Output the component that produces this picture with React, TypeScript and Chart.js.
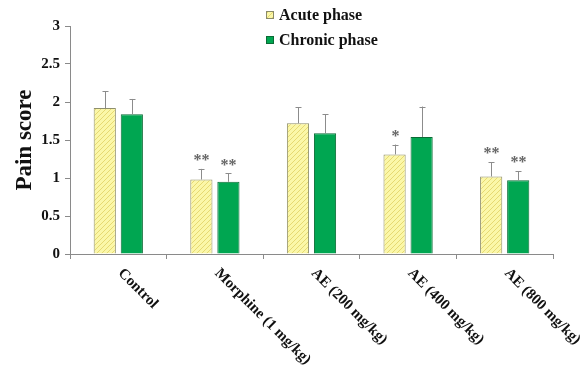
import React, { useEffect, useRef } from "react";
import { Chart, registerables } from "chart.js";

Chart.register(...registerables);

const categories = ["Control", "Morphine (1 mg/kg)", "AE (200 mg/kg)", "AE (400 mg/kg)", "AE (800 mg/kg)"];
const seriesNames = ["Acute phase", "Chronic phase"];
const acuteMeans = [1.92, 0.98, 1.72, 1.31, 1.02];
const acuteErrors = [0.22, 0.14, 0.21, 0.13, 0.19];
const chronicMeans = [1.84, 0.95, 1.59, 1.54, 0.97];
const chronicErrors = [0.2, 0.11, 0.25, 0.4, 0.12];
const acuteMarks = ["", "**", "", "*", "**"];
const chronicMarks = ["", "**", "", "", "**"];
const yTickValues = [0, 0.5, 1, 1.5, 2, 2.5, 3];

const SERIF = "'Liberation Serif', 'Times New Roman', serif";
const AXIS_COLOR = "#8a8a8a";

function makeHatch(): CanvasPattern | string {
  const size = 5;
  const c = document.createElement("canvas");
  c.width = size;
  c.height = size;
  const g = c.getContext("2d");
  if (!g) return "#faf5a2";
  g.fillStyle = "#fbf7a8";
  g.fillRect(0, 0, size, size);
  g.strokeStyle = "#e6d972";
  g.lineWidth = 1;
  g.beginPath();
  g.moveTo(0, size);
  g.lineTo(size, 0);
  g.moveTo(-1, 1);
  g.lineTo(1, -1);
  g.moveTo(size - 1, size + 1);
  g.lineTo(size + 1, size - 1);
  g.stroke();
  const p = g.createPattern(c, "repeat");
  return p || "#faf5a2";
}

export default function App() {
  const ref = useRef<HTMLCanvasElement | null>(null);

  useEffect(() => {
    if (!ref.current) return;
    const hatch = makeHatch();
    const errors = [acuteErrors, chronicErrors];
    const marks = [acuteMarks, chronicMarks];

    const errorBarPlugin = {
      id: "errorBars",
      afterDatasetsDraw(chart: any) {
        const ctx = chart.ctx;
        const y = chart.scales.y;
        chart.data.datasets.forEach((ds: any, di: number) => {
          const meta = chart.getDatasetMeta(di);
          meta.data.forEach((bar: any, i: number) => {
            const top = y.getPixelForValue(ds.data[i] + errors[di][i]);
            const x = Math.round(bar.x) + 0.5;
            ctx.save();
            ctx.strokeStyle = "#8c8c8c";
            ctx.lineWidth = 1;
            ctx.beginPath();
            ctx.moveTo(x, bar.y);
            ctx.lineTo(x, top);
            ctx.moveTo(x - 3, Math.round(top) + 0.5);
            ctx.lineTo(x + 3, Math.round(top) + 0.5);
            ctx.stroke();
            const m = marks[di][i];
            if (m) {
              ctx.fillStyle = "#666666";
              ctx.font = `bold 16px ${SERIF}`;
              ctx.textAlign = "center";
              ctx.textBaseline = "middle";
              ctx.fillText(m, x, top - 8);
            }
            ctx.restore();
          });
        });
      },
    };

    const labelsPlugin = {
      id: "rotatedLabels",
      afterDraw(chart: any) {
        const ctx = chart.ctx;
        const xs = chart.scales.x;
        ctx.save();
        ctx.fillStyle = "#111111";
        ctx.font = `bold 15px ${SERIF}`;
        ctx.textAlign = "left";
        ctx.textBaseline = "middle";
        categories.forEach((c, i) => {
          const px = xs.getPixelForValue(i);
          ctx.save();
          ctx.translate(px + 2, xs.top + 17);
          ctx.rotate(Math.PI / 4);
          ctx.fillText(c, 0, 0);
          ctx.restore();
        });
        ctx.restore();
      },
    };

    const legendPlugin = {
      id: "stackedLegend",
      afterDraw(chart: any) {
        const ctx = chart.ctx;
        const fills = [hatch, "#00a651"];
        const borders = ["#8a8a6a", "#0a6b35"];
        ctx.save();
        seriesNames.forEach((name, i) => {
          const cy = 15 + i * 25;
          ctx.fillStyle = fills[i];
          ctx.fillRect(266, cy - 4, 8, 8);
          ctx.strokeStyle = borders[i];
          ctx.lineWidth = 1;
          ctx.strokeRect(266.5, cy - 3.5, 7, 7);
          ctx.fillStyle = "#111111";
          ctx.font = `bold 16px ${SERIF}`;
          ctx.textAlign = "left";
          ctx.textBaseline = "middle";
          ctx.fillText(name, 279, cy + 1);
        });
        ctx.restore();
      },
    };

    const chart = new Chart(ref.current, {
      type: "bar",
      data: {
        labels: categories,
        datasets: [
          {
            label: seriesNames[0],
            data: acuteMeans,
            backgroundColor: hatch as any,
            borderColor: "#8f8f6c",
            borderWidth: 1,
            categoryPercentage: 0.56,
            barPercentage: 0.82,
          },
          {
            label: seriesNames[1],
            data: chronicMeans,
            backgroundColor: "#00a651",
            borderColor: "#0a6b35",
            borderWidth: 1,
            categoryPercentage: 0.56,
            barPercentage: 0.82,
          },
        ],
      },
      options: {
        animation: false,
        responsive: false,
        maintainAspectRatio: false,
        layout: { padding: { left: 0, top: 26, right: 29, bottom: 0 } },
        plugins: {
          legend: { display: false },
          tooltip: { enabled: false },
        },
        scales: {
          x: {
            offset: true,
            grid: {
              offset: true,
              drawOnChartArea: false,
              drawTicks: true,
              tickLength: 5,
              color: AXIS_COLOR,
            },
            border: { color: AXIS_COLOR, width: 1 },
            ticks: { display: false },
            afterFit(scale: any) {
              scale.height = 113;
            },
          },
          y: {
            min: 0,
            max: 3,
            afterBuildTicks(scale: any) {
              scale.ticks = yTickValues.map((v) => ({ value: v }));
            },
            grid: {
              drawOnChartArea: false,
              drawTicks: true,
              tickLength: 5,
              color: AXIS_COLOR,
            },
            border: { color: AXIS_COLOR, width: 1 },
            ticks: {
              padding: 5,
              color: "#111111",
              font: { family: SERIF, size: 15, weight: "bold" },
              callback: (v: any) => String(v),
            },
            title: {
              display: true,
              text: "Pain score",
              color: "#111111",
              font: { family: SERIF, size: 23, weight: "bold" },
              padding: { top: 11, bottom: 0 },
            },
            afterFit(scale: any) {
              scale.width = 70;
            },
          },
        },
      },
      plugins: [errorBarPlugin, labelsPlugin, legendPlugin],
    });
    return () => chart.destroy();
  }, []);

  return (
    <div style={{ position: "fixed", left: 0, top: 0, width: 582, height: 367, background: "#ffffff" }}>
      <canvas ref={ref} width={582} height={367} style={{ width: 582, height: 367, display: "block" }} />
    </div>
  );
}
